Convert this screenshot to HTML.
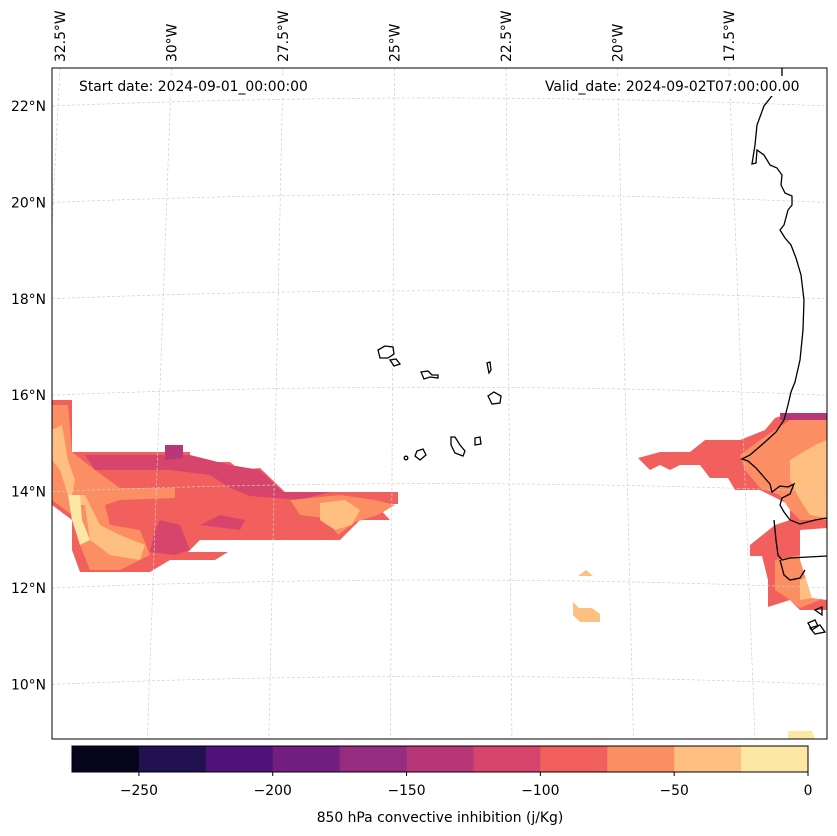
<!DOCTYPE html>
<html><head><meta charset="utf-8">
<style>
body{margin:0;background:#fff;}
svg{display:block;font-family:"DejaVu Sans","Liberation Sans",sans-serif;}
</style></head>
<body>
<svg id="chart" width="837" height="836" viewBox="0 0 837 836" xmlns="http://www.w3.org/2000/svg">
<defs><clipPath id="mapclip"><rect x="52" y="68" width="775" height="671"/></clipPath></defs>
<g id="map" clip-path="url(#mapclip)">
  <g id="fills">
    <polygon fill="#f1605d" points="52,400 72,400 72,452 85,452 165,452 165,445 183,445 183,452 190,452 190,462 230,462 240,470 260,468 285,492 398,492 398,504 375,504 390,520 360,520 340,540 200,540 188,552 228,552 215,560 170,560 150,572 80,572 72,550 72,520 52,505"/>
    <polygon fill="#d8456c" points="85,455 190,455 230,465 260,470 283,492 330,492 300,500 250,496 230,488 210,475 170,470 120,470 95,470"/>
    <polygon fill="#b73779" points="165,445 183,445 183,458 165,460"/>
    <polygon fill="#d8456c" points="160,520 180,525 190,550 175,555 150,552 155,530"/>
    <polygon fill="#d8456c" points="200,525 240,530 245,520 220,515"/>
    <polygon fill="#fc8e63" points="52,405 68,405 72,452 95,470 120,488 175,488 175,498 120,500 105,505 110,525 140,530 150,555 120,570 90,570 80,545 72,515 52,500"/>
    <polygon fill="#fc8e63" points="290,500 340,495 375,500 395,505 378,515 355,522 338,535 325,518 300,515"/>
    <polygon fill="#febf80" points="52,430 62,425 68,460 75,480 70,505 85,505 90,540 110,555 140,560 145,545 120,535 100,525 85,495 68,495 60,470 52,460"/>
    <polygon fill="#febf80" points="320,503 345,500 360,510 352,525 335,530 320,520"/>
    <polygon fill="#fde7a4" points="68,495 80,495 82,520 90,540 80,545 72,520"/>
    <polygon fill="#f1605d" points="638,458 660,452 690,452 705,440 740,440 765,430 775,418 790,413 827,413 827,610 800,610 790,600 768,607 768,580 762,556 750,556 750,545 775,525 790,520 790,505 760,490 735,490 728,478 710,478 700,465 680,465 670,470 660,465 650,470"/>
    <polygon fill="#b73779" points="780,413 827,413 827,420 780,420"/>
    <polygon fill="#fc8e63" points="740,455 760,440 790,420 827,420 827,520 800,520 790,510 780,495 760,488 745,470"/>
    <polygon fill="#fc8e63" points="775,560 800,555 810,580 820,600 800,608 790,600 775,590"/>
    <polygon fill="#febf80" points="790,460 815,445 827,440 827,518 810,515 800,500 790,480"/>
    <polygon fill="#febf80" points="800,580 812,575 812,598 800,600"/>
    <polygon fill="#febf80" points="578,576 586,570 593,576"/>
    <polygon fill="#febf80" points="573,602 579,608 592,608 600,614 600,622 580,622 573,615"/>
    <polygon fill="#fde7a4" points="788,731 812,731 815,739 788,739"/>
    <polygon fill="#fff" points="800,530 827,528 827,600 812,598 800,560"/>
  </g>
  <g id="grid" stroke="#cfcfcf" stroke-width="0.7" stroke-dasharray="3,2" fill="none"></g>
  <g id="coast" stroke="#000" stroke-width="1.3" fill="none">
    <polyline points="782,68 782,80 775,92 764,106 757,125 755,145 752,164 756,163 757,150 764,155 770,165 777,168 782,175 781,185 785,193 792,196 792,205 788,210 784,225 780,230 785,238 791,245 796,258 801,275 804,300 803,330 800,360 795,382 791,392 788,405 784,420 776,432 765,442 750,455 742,459 748,461 756,468 763,476 770,484 772,492 780,486 788,487 794,484 790,494 782,498 780,505 784,512 790,520 800,524 815,520 827,518"/>
    <polyline points="774,520 776,540 778,555 782,560 790,558 827,556"/>
    <polyline points="780,560 784,575 790,580 800,578 805,570"/>
    <polygon points="378,350 385,346 393,347 394,354 388,358 380,358"/>
    <polygon points="390,360 396,359 400,364 394,366"/>
    <polygon points="421,372 428,371 432,375 438,375 438,378 430,377 424,379"/>
    <polygon points="487,363 490,362 491,370 489,373"/>
    <polygon points="488,396 494,392 501,396 500,403 492,404"/>
    <polygon points="451,437 455,437 460,445 465,451 463,456 455,453 451,445"/>
    <polygon points="475,438 480,437 481,444 475,445"/>
    <polygon points="417,451 423,449 426,455 420,460 415,456"/>
    <circle cx="406" cy="458" r="1.8"/>
    <polygon points="808,623 815,620 818,626 812,630"/>
    <polygon points="810,628 820,625 825,632 815,634"/>
    <polygon points="815,610 822,607 822,615"/>
  </g>
</g>
<rect x="52" y="68" width="775" height="671" fill="none" stroke="#000" stroke-width="1"/>
<g font-size="13.9">
  <rect x="75" y="76" width="238" height="20" fill="#fff"/>
  <text x="79" y="91">Start date: 2024-09-01_00:00:00</text>
  <rect x="540" y="76" width="265" height="20" fill="#fff"/>
  <text x="545" y="91">Valid_date: 2024-09-02T07:00:00.00</text>
</g>
<g id="latlabels" font-size="13.9" text-anchor="end"></g>
<g id="lonlabels" font-size="13.9"></g>
<g id="cbar"></g>
<text x="440" y="822" font-size="13.9" text-anchor="middle">850 hPa convective inhibition (j/Kg)</text>
</svg>
<script>
const NS="http://www.w3.org/2000/svg";
const latValues=[22,20,18,16,14,12,10];
const lonValues=[32.5,30,27.5,25,22.5,20,17.5];
const levelBounds=[-275,-250,-225,-200,-175,-150,-125,-100,-75,-50,-25,0];
const levelColors=["#07051b","#221150","#4f127b","#721f81","#952c80","#b73779","#d8456c","#f1605d","#fc8e63","#febf80","#fde7a4"];
const cbarTicks=[-250,-200,-150,-100,-50,0];
function latY(v){return 106+(22-v)*48.2;}
function lonX(v){return 60+(32.5-v)*44.6;}
function mk(tag,attrs,parent){const e=document.createElementNS(NS,tag);for(const k in attrs)e.setAttribute(k,attrs[k]);parent.appendChild(e);return e;}
const grid=document.getElementById('grid');
latValues.forEach(v=>{const y=latY(v);
  const p=mk('path',{d:`M52,${y} Q440,${y-16} 827,${y}`},grid);
  
  
  const t=mk('text',{x:46,y:y+5},document.getElementById('latlabels'));t.textContent=v+'°N';
  
  
});
lonValues.forEach(v=>{const x=lonX(v);const xb=440+(x-440)*1.09;
  const p=mk('line',{x1:x,y1:68,x2:xb,y2:739},grid);
  
  
  const t=mk('text',{x:0,y:0,transform:`translate(${x+5},62) rotate(-90)`},document.getElementById('lonlabels'));t.textContent=v+'°W';
  
  
});
const cb=document.getElementById('cbar');
const cx0=72,cx1=808,cy=746,ch=26;
function cbX(v){return cx0+(v-levelBounds[0])/(levelBounds[levelBounds.length-1]-levelBounds[0])*(cx1-cx0);}
levelColors.forEach((c,i)=>{const r=mk('rect',{x:cbX(levelBounds[i]),y:cy,width:cbX(levelBounds[i+1])-cbX(levelBounds[i])+0.5,height:ch,fill:c},cb);
  
  });
mk('rect',{x:cx0,y:cy,width:cx1-cx0,height:ch,fill:'none',stroke:'#000','stroke-width':1},cb);
cbarTicks.forEach(v=>{const x=cbX(v);mk('line',{x1:x,y1:cy+ch,x2:x,y2:cy+ch+4,stroke:'#000'},cb);
  const t=mk('text',{x:x,y:795,'font-size':13.9,'text-anchor':'middle'},cb);t.textContent=(v<0?'−'+(-v):v);
  
  });
</script>
</body></html>
